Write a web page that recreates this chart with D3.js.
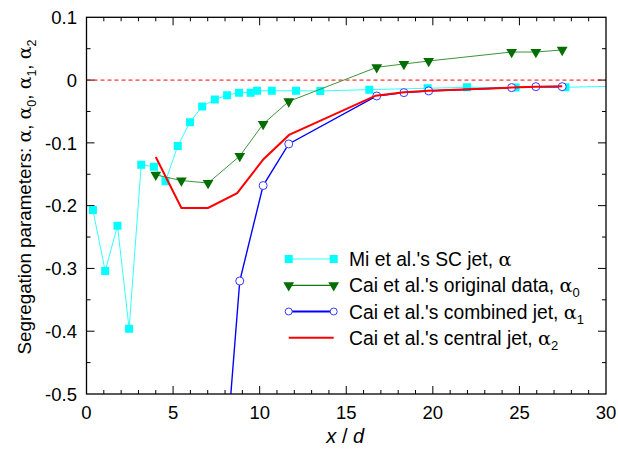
<!DOCTYPE html>
<html>
<head>
<meta charset="utf-8">
<script src="https://cdn.jsdelivr.net/npm/d3@7"></script>
<style>
  html, body { margin: 0; padding: 0; background: #fff; }
  svg { display: block; font-family: "Liberation Sans", Arial, sans-serif; }
</style>
</head>
<body>
<svg id="chart" width="618" height="453"></svg>
<script>
// Mi et al.'s SC jet (alpha)
const miX = [0.37, 1.08, 1.79, 2.46, 3.16, 3.89, 4.56, 5.27, 5.98, 6.68, 7.41, 8.12, 8.81, 9.48, 9.85, 10.7, 12.1, 13.5, 16.33, 19.7, 21.97, 24.78, 27.66, 31.0];
const miY = [-0.207, -0.304, -0.232, -0.396, -0.135, -0.138, -0.161, -0.105, -0.067, -0.042, -0.031, -0.024, -0.020, -0.020, -0.017, -0.017, -0.017, -0.0173, -0.0152, -0.013, -0.0115, -0.012, -0.0115, -0.0095];

// Cai et al.'s stations
const caiX = [4.0, 5.48, 7.02, 8.85, 10.2, 11.68, 16.76, 18.33, 19.76, 24.55, 25.95, 27.47];
// original data (alpha0)
const alpha0 = [-0.151, -0.160, -0.164, -0.121, -0.070, -0.034, 0.0204, 0.0256, 0.0304, 0.0447, 0.0447, 0.048];
// combined jet (alpha1); first two stations not available
const alpha1 = [null, null, -0.96, -0.320, -0.168, -0.1017, -0.0253, -0.020, -0.0173, -0.012, -0.0105, -0.0105];
// central jet (alpha2)
const centralX = [4.0, 5.48, 7.02, 8.7, 10.22, 11.7, 16.7, 18.33, 19.76, 24.55, 25.95, 27.47];
const alpha2 = [-0.1224, -0.2036, -0.2036, -0.180, -0.126, -0.0874, -0.0248, -0.0195, -0.017, -0.012, -0.0105, -0.0099];

const xTicks = [0, 5, 10, 15, 20, 25, 30];
const yTicks = [0.1, 0, -0.1, -0.2, -0.3, -0.4, -0.5];
const yTickLabels = ["0.1", "0", "-0.1", "-0.2", "-0.3", "-0.4", "-0.5"];

const legendLabels = [
  {text: "Mi et al.'s SC jet, ", sub: null},
  {text: "Cai et al.'s original data, ", sub: "0"},
  {text: "Cai et al.'s combined jet, ", sub: "1"},
  {text: "Cai et al.'s central jet, ", sub: "2"}
];

const m = {left: 86.5, right: 606, top: 17.3, bottom: 394};
const svg = d3.select("#chart");
const x = d3.scaleLinear().domain([0, 30]).range([m.left, m.right]);
const y = d3.scaleLinear().domain([-0.5, 0.1]).range([m.bottom, m.top]);

const zip = (xs, ys) => xs.map((v, i) => ({x: v, y: ys[i]})).filter(d => d.y !== null);
const greek = "DejaVu Serif, Liberation Serif, serif";

svg.append("clipPath").attr("id", "plotClip")
  .append("rect").attr("x", m.left).attr("y", m.top)
  .attr("width", m.right - m.left).attr("height", m.bottom - m.top);

// ticks: major + minor, inward, on all four sides
const axisG = svg.append("g").attr("stroke", "#000").attr("stroke-width", 1);
const xMinor = d3.range(0, 31, 1);
const yMinor = d3.range(-0.5, 0.1001, 0.05).map(v => Math.round(v * 100) / 100);
xMinor.forEach(v => {
  const len = (v % 5 === 0) ? 8 : 4;
  if (v === 0 || v === 30) return;
  axisG.append("line").attr("x1", x(v)).attr("x2", x(v)).attr("y1", m.bottom).attr("y2", m.bottom - len);
  axisG.append("line").attr("x1", x(v)).attr("x2", x(v)).attr("y1", m.top).attr("y2", m.top + len);
});
yMinor.forEach(v => {
  const major = Math.abs(Math.round(v * 10) - v * 10) < 1e-6;
  const len = major ? 8 : 4;
  if (v === -0.5 || v === 0.1) return;
  axisG.append("line").attr("x1", m.left).attr("x2", m.left + len).attr("y1", y(v)).attr("y2", y(v));
  axisG.append("line").attr("x1", m.right).attr("x2", m.right - len).attr("y1", y(v)).attr("y2", y(v));
});

// tick labels
const labelG = svg.append("g").attr("font-size", 18.5).attr("fill", "#000");
labelG.selectAll(".xt").data(xTicks).join("text")
  .attr("x", d => x(d)).attr("y", 418.5).attr("text-anchor", "middle").text(d => d);
labelG.selectAll(".yt").data(yTicks).join("text")
  .attr("x", 77).attr("y", d => y(d) + 6.7).attr("text-anchor", "end")
  .text((d, i) => yTickLabels[i]);

// axis titles
const xt = svg.append("text").attr("x", (m.left + m.right) / 2 - 1).attr("y", 443)
  .attr("text-anchor", "middle").attr("font-size", 20).attr("font-style", "italic");
xt.append("tspan").text("x");
xt.append("tspan").attr("font-style", "normal").text(" / ");
xt.append("tspan").text("d");

const yt = svg.append("text").attr("transform", "translate(31,197) rotate(-90)")
  .attr("text-anchor", "middle").attr("font-size", 18.8);
yt.append("tspan").text("Segregation parameters: ");
yt.append("tspan").attr("font-family", greek).text("α");
yt.append("tspan").text(", ");
["0", "1", "2"].forEach((s, i) => {
  yt.append("tspan").attr("font-family", greek).text("α");
  yt.append("tspan").attr("font-size", 12.5).attr("dy", 5).text(s);
  yt.append("tspan").attr("dy", -5).text(i < 2 ? ", " : "");
});

const plot = svg.append("g").attr("clip-path", "url(#plotClip)");

// zero reference line
plot.append("line").attr("x1", m.left).attr("x2", m.right).attr("y1", y(0)).attr("y2", y(0))
  .attr("stroke", "#ff0000").attr("stroke-width", 1).attr("stroke-dasharray", "4,3");

const line = d3.line().x(d => x(d.x)).y(d => y(d.y));
const square = d3.symbol().type(d3.symbolSquare).size(64);
const tri = d3.symbol().type(d3.symbolTriangle).size(50);

// Mi et al. SC jet
const miData = zip(miX, miY);
plot.append("path").datum(miData).attr("d", line).attr("fill", "none")
  .attr("stroke", "#33ffff").attr("stroke-width", 1);
plot.selectAll(".mi").data(miData).join("path")
  .attr("d", square).attr("transform", d => `translate(${x(d.x)},${y(d.y)})`)
  .attr("fill", "#00ffff");

// Cai original data
const a0 = zip(caiX, alpha0);
plot.append("path").datum(a0).attr("d", line).attr("fill", "none")
  .attr("stroke", "#3c943c").attr("stroke-width", 1);
plot.selectAll(".a0").data(a0).join("path")
  .attr("d", tri).attr("transform", d => `translate(${x(d.x)},${y(d.y)}) rotate(180)`)
  .attr("fill", "#006e00");

// Cai combined jet
const a1 = zip(caiX, alpha1);
plot.append("path").datum(a1).attr("d", line).attr("fill", "none")
  .attr("stroke", "#0000ff").attr("stroke-width", 1.4);
plot.selectAll(".a1").data(a1).join("circle")
  .attr("cx", d => x(d.x)).attr("cy", d => y(d.y)).attr("r", 4)
  .attr("fill", "#fff").attr("stroke", "#3a3aff").attr("stroke-width", 1);

// Cai central jet
const a2 = zip(centralX, alpha2);
plot.append("path").datum(a2).attr("d", line).attr("fill", "none")
  .attr("stroke", "#ff0000").attr("stroke-width", 2);

// frame
svg.append("rect").attr("x", m.left).attr("y", m.top)
  .attr("width", m.right - m.left).attr("height", m.bottom - m.top)
  .attr("fill", "none").attr("stroke", "#000").attr("stroke-width", 1.3);

// legend
const lg = svg.append("g");
const rowY = [259, 285.3, 311.5, 337.7];
const lx1 = 288.7, lx2 = 333.7;
// row 0
lg.append("line").attr("x1", lx1).attr("x2", lx2).attr("y1", rowY[0]).attr("y2", rowY[0])
  .attr("stroke", "#33ffff").attr("stroke-width", 1);
[lx1, lx2].forEach(px => lg.append("path").attr("d", square)
  .attr("transform", `translate(${px},${rowY[0]})`).attr("fill", "#00ffff"));
// row 1
lg.append("line").attr("x1", lx1).attr("x2", lx2).attr("y1", rowY[1]).attr("y2", rowY[1])
  .attr("stroke", "#107a10").attr("stroke-width", 1.2);
[lx1, lx2].forEach(px => lg.append("path").attr("d", tri)
  .attr("transform", `translate(${px},${rowY[1]}) rotate(180)`).attr("fill", "#006e00"));
// row 2
lg.append("line").attr("x1", lx1).attr("x2", lx2).attr("y1", rowY[2]).attr("y2", rowY[2])
  .attr("stroke", "#0000ff").attr("stroke-width", 2);
[lx1, lx2].forEach(px => lg.append("circle").attr("cx", px).attr("cy", rowY[2]).attr("r", 3.5)
  .attr("fill", "#fff").attr("stroke", "#3a3aff").attr("stroke-width", 1));
// row 3
lg.append("line").attr("x1", lx1).attr("x2", lx2).attr("y1", rowY[3]).attr("y2", rowY[3])
  .attr("stroke", "#ff0000").attr("stroke-width", 2);

legendLabels.forEach((l, i) => {
  const t = lg.append("text").attr("x", 349).attr("y", rowY[i] + 7).attr("font-size", 19.3);
  t.append("tspan").text(l.text);
  t.append("tspan").attr("font-family", greek).text("α");
  if (l.sub) t.append("tspan").attr("font-size", 13).attr("dy", 5).text(l.sub);
});
</script>
</body>
</html>
